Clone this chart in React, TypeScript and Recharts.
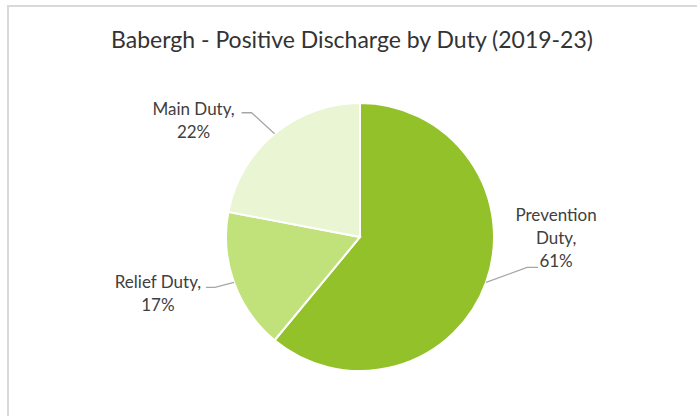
import { PieChart, Pie, Cell } from 'recharts';

// Babergh positive discharges split by duty, 2019-23 (percent of total)
const dutyNames = ['Prevention Duty', 'Relief Duty', 'Main Duty'];
const dutyShares = [61, 17, 22];
const sliceColors = ['#92C12A', '#C1E27B', '#EAF5D4'];

const data = dutyNames.map((name, i) => ({ name, value: dutyShares[i] }));

const RADIAN = Math.PI / 180;
const FONT = 'Lato, "Open Sans", sans-serif';
const TEXT = '#404040';

// leader elbow / end and text placement relative to the point on the rim
const labelLayout: Record<string, { elbow: number[]; end: number[]; tx: number; lines: string[]; dy: number }> = {
    'Prevention Duty': { elbow: [41, -15], end: [52, -15], tx: 70, lines: ['Prevention', 'Duty,'], dy: -61 },
    'Relief Duty': { elbow: [-19, 5], end: [-28, 5], tx: -76, lines: ['Relief Duty,'], dy: 6 },
    'Main Duty': { elbow: [-23, -21], end: [-33, -21], tx: -81, lines: ['Main Duty,'], dy: -19 },
};

function renderLabel(props: any) {
    const { cx, cy, midAngle, outerRadius, name, value } = props;
    const ex = cx + outerRadius * Math.cos(-midAngle * RADIAN);
    const ey = cy + outerRadius * Math.sin(-midAngle * RADIAN);
    const l = labelLayout[name];
    const lines = [...l.lines, `${value}%`];
    return (
        <g>
            <polyline
                points={`${ex},${ey} ${ex + l.elbow[0]},${ey + l.elbow[1]} ${ex + l.end[0]},${ey + l.end[1]}`}
                fill="none"
                stroke="#A6A6A6"
                strokeWidth={1.3}
            />
            <text x={ex + l.tx} y={ey + l.dy} textAnchor="middle" fill={TEXT} fontFamily={FONT} fontSize={17}>
                {lines.map((t, i) => (
                    <tspan key={i} x={ex + l.tx} dy={i === 0 ? 0 : 23}>{t}</tspan>
                ))}
            </text>
        </g>
    );
}

export default function App() {
    return (
        <div style={{ position: 'absolute', left: 0, top: 0, width: 697, height: 416, overflow: 'hidden', background: '#fff' }}>
            <div style={{ position: 'absolute', left: 7, top: 5, width: 740, height: 460, border: '2px solid #D9D9D9', boxSizing: 'border-box' }} />
            <div
                style={{
                    position: 'absolute', left: 0, top: 25, width: 704, textAlign: 'center',
                    fontFamily: FONT, fontSize: 23, color: '#333', lineHeight: '28px',
                }}
            >
                Babergh - Positive Discharge by Duty (2019-23)
            </div>
            <div style={{ position: 'absolute', left: 0, top: 0 }}>
                <PieChart width={697} height={416} margin={{ top: 0, right: 0, bottom: 0, left: 0 }}>
                    <Pie
                        data={data}
                        dataKey="value"
                        nameKey="name"
                        cx={360}
                        cy={237}
                        outerRadius={134}
                        startAngle={90}
                        endAngle={-270}
                        stroke="#fff"
                        strokeWidth={2}
                        label={renderLabel}
                        labelLine={false}
                        isAnimationActive={false}
                    >
                        {data.map((entry, index) => (
                            <Cell key={`cell-${index}`} fill={sliceColors[index]} />
                        ))}
                    </Pie>
                </PieChart>
            </div>
        </div>
    );
}
